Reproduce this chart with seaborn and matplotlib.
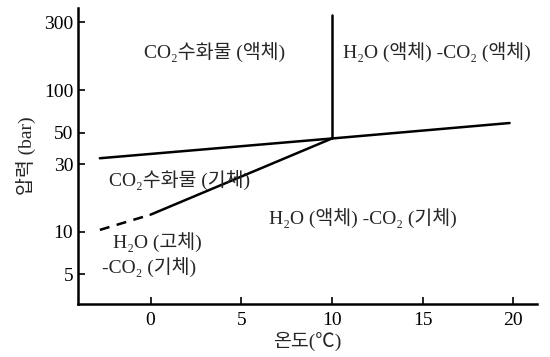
import matplotlib
matplotlib.use("Agg")
import matplotlib.pyplot as plt
import seaborn as sns

# phase boundaries (temperature in C, pressure in bar)
liq_gas_T = [-2.8, 10, 19.8]
liq_gas_P = [33, 45.5, 58.5]
vert_T = [10, 10]
vert_P = [45.5, 340]
hyd_gas_T = [0, 10]
hyd_gas_P = [13.2, 45.5]
ice_T = [-2.8, 0]
ice_P = [10.3, 13.2]

x_ticks = [0, 5, 10, 15, 20]
y_ticks = [5, 10, 30, 50, 100, 300]

sns.set_style("white")
plt.rcParams['font.family'] = ['Liberation Serif', 'Noto Sans CJK KR']

fig = plt.figure(figsize=(5.5, 3.57), dpi=100)
ax = fig.add_axes([0.142, 0.149, 0.834, 0.829])

kw = dict(color='black', linewidth=1.8, ax=ax, legend=False,
          estimator=None, sort=False)
sns.lineplot(x=liq_gas_T, y=liq_gas_P, **kw)
sns.lineplot(x=vert_T, y=vert_P, **kw)
sns.lineplot(x=hyd_gas_T, y=hyd_gas_P, **kw)
sns.lineplot(x=ice_T, y=ice_P, linestyle=(0, (4, 3)), **kw)

ax.set_yscale('log')
ax.set_xlim(-4, 21.3)
ax.set_ylim(3.1, 380)
ax.set_xticks(x_ticks)
ax.set_xticklabels([str(t) for t in x_ticks])
ax.set_yticks(y_ticks)
ax.set_yticklabels([str(t) for t in y_ticks])
ax.minorticks_off()
ax.tick_params(left=True, bottom=True, direction='in', length=5, width=1.2,
               labelsize=14, colors='black')
ax.tick_params(axis='x', pad=6)

for s in ['top', 'right']:
    ax.spines[s].set_visible(False)
for s in ['left', 'bottom']:
    ax.spines[s].set_color('black')
    ax.spines[s].set_linewidth(1.8)

ax.set_xlabel('온도(℃)', fontsize=14, labelpad=2)
ax.set_ylabel('압력 (bar)', fontsize=14, labelpad=6)

fs = 14
ax.text(3.5, 186, 'CO₂수화물 (액체)', fontsize=fs, ha='center', va='center')
ax.text(15.8, 186, 'H₂O (액체) -CO₂ (액체)', fontsize=fs, ha='center', va='center')
ax.text(1.6, 23, 'CO₂수화물 (기체)', fontsize=fs, ha='center', va='center')
ax.text(11.7, 12.6, 'H₂O (액체) -CO₂ (기체)', fontsize=fs, ha='center', va='center')
ax.text(-2.1, 8.5, 'H₂O (고체)', fontsize=fs, ha='left', va='center')
ax.text(-2.7, 5.6, '-CO₂ (기체)', fontsize=fs, ha='left', va='center')

fig.savefig('out.png', dpi=100)
